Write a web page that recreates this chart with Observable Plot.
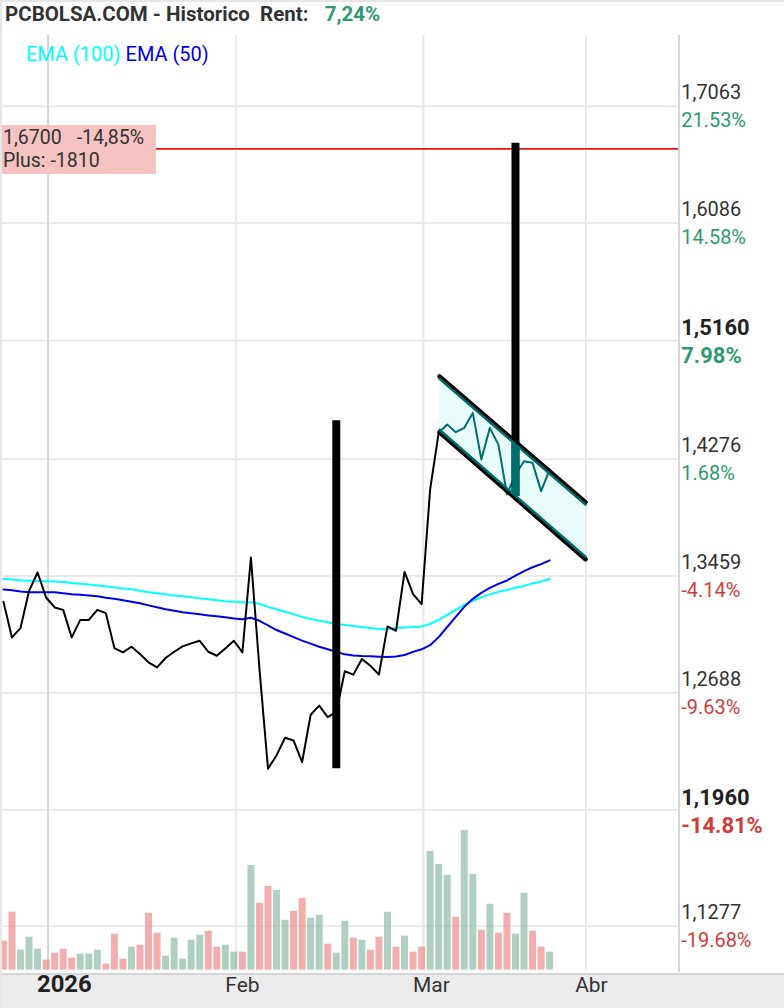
<!DOCTYPE html>
<html><head><meta charset="utf-8">
<script src="https://cdn.jsdelivr.net/npm/d3@7"></script>
<script src="https://cdn.jsdelivr.net/npm/@observablehq/plot@0.6"></script>
<style>
body{margin:0;background:#fff;}
#root{position:relative;width:784px;height:1008px;overflow:hidden;background:#fff;font-family:Roboto,"Noto Sans",sans-serif;box-sizing:border-box;border-left:2px solid #e6e6e6;border-top:2px solid #e6e6e6;}
#band{position:absolute;left:0;top:971px;width:784px;height:37px;background:#ebebeb;border-top:2px solid #d6d6d6;box-sizing:border-box;}
#divider{position:absolute;left:676px;top:33px;width:2px;height:937px;background:#d6d6d6;}
#chart,#vol{position:absolute;left:-2px;top:33px;}
#vol{pointer-events:none;}
#title{position:absolute;left:3px;top:0px;font-size:20.5px;font-weight:700;color:#333;white-space:pre;}
#title .g{color:#2e9a6f;margin-left:6px;}
#legend{position:absolute;left:24px;top:40px;font-size:20px;white-space:pre;}
#tag{position:absolute;left:-2px;width:156px;height:49px;background:#f6c2c2;color:#333;font-size:19.5px;white-space:pre;padding:1px 0 0 3px;box-sizing:border-box;}
#tag div{height:23px;line-height:23px;}
#tag .gap{display:inline-block;width:15px;}
svg{overflow:visible;}
</style></head><body>
<div id="root">
  <div id="band"></div>
  <div id="chart"></div>
  <div id="divider"></div>
  <div id="vol"></div>
  <div id="title"></div>
  <div id="legend"></div>
  <div id="tag"></div>
</div>
<script>
// ---- data (x = trading-day index) ----
const titleText = "PCBOLSA.COM - Historico  Rent:";
const rentText = "7,24%";
const closes = [1.3285,1.3048,1.3110,1.3358,1.3483,1.3314,1.3247,1.3231,1.3048,1.3164,
1.3164,1.3231,1.3209,1.2978,1.2950,1.2987,1.2939,1.2885,1.2852,1.2913,
1.2954,1.2989,1.3009,1.3026,1.2954,1.2928,1.2976,1.3026,1.2950,1.3585,
1.2842,1.2211,1.2293,1.2403,1.2386,1.2252,1.2548,1.2606,1.2533,1.2566,
1.2827,1.2805,1.2907,1.2863,1.2805,1.3121,1.3092,1.3487,1.3336,1.3269,
1.4061,1.4469,1.4529,1.4473,1.4505,1.4615,1.4275,1.4505,1.4383,1.4026,
1.4168,1.4263,1.4251,1.4049,1.4203];
const ema100 = [1.3439,1.3436,1.3429,1.3428,1.3426,1.3424,1.3422,1.3419,1.3412,1.3406,
1.3402,1.3395,1.3389,1.3382,1.3375,1.3369,1.3359,1.3349,1.3342,1.3335,
1.3328,1.3322,1.3315,1.3308,1.3302,1.3295,1.3288,1.3285,1.3282,1.3282,
1.3272,1.3251,1.3235,1.3218,1.3201,1.3184,1.3171,1.3158,1.3148,1.3137,
1.3131,1.3124,1.3117,1.3111,1.3104,1.3104,1.3111,1.3114,1.3117,1.3121,
1.3137,1.3164,1.3198,1.3231,1.3265,1.3292,1.3315,1.3335,1.3352,1.3365,
1.3379,1.3392,1.3409,1.3422,1.3439];
const ema50 = [1.3367,1.3362,1.3355,1.3350,1.3350,1.3350,1.3349,1.3342,1.3336,1.3332,
1.3328,1.3322,1.3312,1.3305,1.3295,1.3285,1.3275,1.3261,1.3248,1.3235,
1.3225,1.3215,1.3208,1.3201,1.3194,1.3188,1.3181,1.3174,1.3168,1.3178,
1.3158,1.3127,1.3097,1.3074,1.3050,1.3027,1.3007,1.2987,1.2970,1.2953,
1.2937,1.2930,1.2926,1.2924,1.2922,1.2920,1.2923,1.2933,1.2953,1.2970,
1.2997,1.3050,1.3117,1.3184,1.3251,1.3305,1.3345,1.3379,1.3406,1.3429,
1.3462,1.3493,1.3519,1.3540,1.3566];
const volumes = [29,58,20,33,21,10,17,21,12,16, 16,20,6,36,11,23,25,57,37,14,
32,11,30,35,39,23,25,18,18,105, 67,84,80,50,59,72,52,55,26,17,
49,32,30,20,33,58,23,34,18,23, 119,106,95,53,140,96,40,66,37,57,
36,77,39,23,18];
const volumeUp = [0,0,1,1,1,0,0,0,0,1, 1,1,0,0,0,1,0,0,0,1,
1,1,1,1,0,0,1,1,0,1, 0,0,1,1,0,0,1,1,0,1,
1,0,1,0,0,1,0,1,0,0, 1,1,1,0,1,1,0,1,0,0,
1,1,0,0,1];
const channelStart = 51;
const channelK = [51.1, 68.2];
const channelUpper = [1.4887, 1.3971];
const channelLower = [1.4473, 1.3574];
const signalK = [39, 60];
const signalLow = [1.2211, 1.4011];
const signalHigh = [1.4558, 1.6748];
const stopLevel = 1.67;
const stopPrice = "1,6700";
const stopPct = "-14,85%";
const stopPlus = "Plus: -1810";
const yTicks = [1.7063,1.6086,1.5160,1.4276,1.3459,1.2688,1.1960,1.1277];
const yTickLabels = ["1,7063","1,6086","1,5160","1,4276","1,3459","1,2688","1,1960","1,1277"];
const yPctLabels = ["21.53%","14.58%","7.98%","1.68%","-4.14%","-9.63%","-14.81%","-19.68%"];
const yTickBold = [0,0,1,0,0,0,1,0];
const monthGrid = [5.23, 27.27, 49.21, 68.26];
const monthLabelAt = [7.14, 28.0, 50.15, 68.9];
const monthLabels = ["2026","Feb","Mar","Abr"];
const legendNames = ["EMA (100)","EMA (50)"];

// ---- styles ----
const C_EMA100 = "#00ffff", C_EMA50 = "#0000f0", C_TEAL = "#006e6e";
const C_GREEN = "#2e9a6f", C_RED = "#d03c3c";

document.getElementById("title").innerHTML = titleText + '<span class="g">' + "  " + rentText + '</span>';
document.getElementById("legend").innerHTML =
  `<span style="color:${C_EMA100}">${legendNames[0]}</span> <span style="color:${C_EMA50}">${legendNames[1]}</span>`;

const W = 786, H = 973;
const xOpt = {domain: [-0.11, 79.25], range: [2, 681], axis: null};
const common = {width: W, height: H, marginTop: 0, marginLeft: 2, marginRight: 105, marginBottom: 36,
  style: {background: "transparent", overflow: "visible", fontFamily: "Roboto, 'Noto Sans', sans-serif"}};

const series = (arr) => arr.map((v, i) => ({k: i, v}));
const chan = channelK.map((k, i) => ({k, lo: channelLower[i], hi: channelUpper[i]}));
const chanAt = (arr, k) => {
  const t = (k - channelK[0]) / (channelK[1] - channelK[0]);
  return Math.exp(Math.log(arr[0]) + t * (Math.log(arr[1]) - Math.log(arr[0])));
};
const signals = signalK.map((k, i) => ({k, lo: signalLow[i], hi: signalHigh[i]}));
const inChan = signals.filter(s => s.k >= channelK[0] && s.k <= channelK[1])
  .map(s => ({k: s.k, lo: Math.max(s.lo, chanAt(channelLower, s.k)), hi: Math.min(s.hi, chanAt(channelUpper, s.k))}));
const ticks = yTicks.map((v, i) => ({v, p: yTickLabels[i], q: yPctLabels[i], bold: yTickBold[i], pos: !yPctLabels[i].startsWith("-")}));
const months = monthLabels.map((m, i) => ({k: monthLabelAt[i], m, first: i === 0}));

const upper = chan.map(d => ({k: d.k, v: d.hi}));
const lower = chan.map(d => ({k: d.k, v: d.lo}));

const txt = (data, opts) => Plot.text(data, {frameAnchor: "right", textAnchor: "start", lineAnchor: "bottom", dx: 1.5, ...opts});

const main = Plot.plot({
  ...common,
  x: xOpt,
  y: {type: "log", domain: [1.1277, 1.7063], range: [893, 71], axis: null},
  marks: [
    Plot.ruleY(yTicks, {stroke: "#e9e9e9", strokeWidth: 2}),
    Plot.ruleX(monthGrid.slice(1), {stroke: "#e9e9e9", strokeWidth: 2}),
    Plot.ruleX(monthGrid.slice(0, 1), {stroke: "#d4d4d4", strokeWidth: 2}),
    Plot.areaY(chan, {x: "k", y1: "lo", y2: "hi", fill: "#e9fcfc"}),
    Plot.line(series(ema100), {x: "k", y: "v", stroke: C_EMA100, strokeWidth: 2}),
    Plot.line(series(ema50), {x: "k", y: "v", stroke: C_EMA50, strokeWidth: 2}),
    Plot.line(series(closes).slice(0, channelStart + 1), {x: "k", y: "v", stroke: "#000", strokeWidth: 2}),
    Plot.line(series(closes).slice(channelStart), {x: "k", y: "v", stroke: C_TEAL, strokeWidth: 2}),
    Plot.ruleY([stopLevel], {stroke: "#e8120f", strokeWidth: 1.6}),
    Plot.ruleX(signals, {x: "k", y1: "lo", y2: "hi", stroke: "#000", strokeWidth: 8}),
    Plot.ruleX(inChan, {x: "k", y1: "lo", y2: "hi", stroke: C_TEAL, strokeWidth: 8}),
    Plot.line(upper, {x: "k", y: "v", stroke: "#000", strokeWidth: 4.5}),
    Plot.line(lower, {x: "k", y: "v", stroke: "#000", strokeWidth: 4.5}),
    Plot.line(upper, {x: "k", y: "v", stroke: C_TEAL, strokeWidth: 2.5, dy: 2.5}),
    Plot.line(lower, {x: "k", y: "v", stroke: C_TEAL, strokeWidth: 2.5, dy: -2.5}),
    txt(ticks.filter(d => !d.bold), {y: "v", text: "p", dy: -7, fontSize: 20, fill: "#333"}),
    txt(ticks.filter(d => !d.bold && d.pos), {y: "v", text: "q", dy: 21, fontSize: 20, fill: C_GREEN}),
    txt(ticks.filter(d => !d.bold && !d.pos), {y: "v", text: "q", dy: 21, fontSize: 20, fill: C_RED}),
    txt(ticks.filter(d => d.bold), {y: "v", text: "p", dy: -5, fontSize: 22, fontWeight: 700, fill: "#222"}),
    txt(ticks.filter(d => d.bold && d.pos), {y: "v", text: "q", dy: 23, fontSize: 22, fontWeight: 700, fill: C_GREEN}),
    txt(ticks.filter(d => d.bold && !d.pos), {y: "v", text: "q", dy: 23, fontSize: 22, fontWeight: 700, fill: C_RED}),
    Plot.text(months.filter(d => d.first), {x: "k", text: "m", frameAnchor: "bottom", lineAnchor: "bottom", dy: 22, fontSize: 24, fontWeight: 700, fill: "#222"}),
    Plot.text(months.filter(d => !d.first), {x: "k", text: "m", frameAnchor: "bottom", lineAnchor: "bottom", dy: 22, fontSize: 21, fill: "#333"})
  ]
});
document.getElementById("chart").append(main);

const vols = volumes.map((v, i) => ({k: i, v, up: volumeUp[i]}));
const volPlot = Plot.plot({
  ...common,
  x: xOpt,
  y: {domain: [0, 140], range: [937, 797], axis: null},
  marks: [
    Plot.ruleX(vols.filter(d => d.up), {x: "k", y1: 0, y2: "v", stroke: "#8fbba6", strokeOpacity: 0.7, strokeWidth: 7}),
    Plot.ruleX(vols.filter(d => !d.up), {x: "k", y1: 0, y2: "v", stroke: "#ec8a8a", strokeOpacity: 0.7, strokeWidth: 7})
  ]
});
document.getElementById("vol").append(volPlot);

// stop-level tag positioned through the price scale
const yStop = main.scale("y").apply(stopLevel) + 33;
const tag = document.getElementById("tag");
tag.style.top = (yStop - 23.5) + "px";
tag.innerHTML = '<div>' + stopPrice + '<span class="gap"></span>' + stopPct + '</div><div>' + stopPlus + '</div>';
</script>
</body></html>
